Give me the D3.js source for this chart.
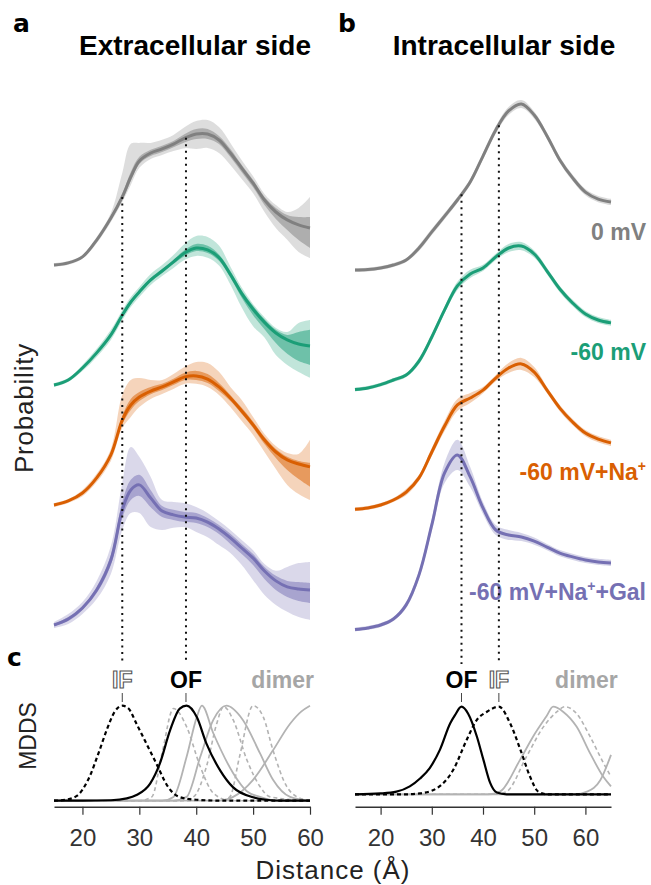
<!DOCTYPE html>
<html><head><meta charset="utf-8">
<script src="https://cdn.jsdelivr.net/npm/d3@7"></script>
<style>body{margin:0;background:#fff}svg{display:block;font-family:"Liberation Sans",Arial,sans-serif}</style>
</head><body><svg id="c" width="651" height="885"></svg>
<script>
// ---------- data ----------
const conditions = ['0 mV', '-60 mV', '-60 mV+Na+', '-60 mV+Na+ +Gal'];

// Extracellular side (panel a), distance grid in Å
const extX = [15,17.5,20,22.5,25,27,28.5,30,32,34,36,38,40,42,44,46,48,50,52,54,56,58,60];
const extGray   = [2.9,3.8,6.3,13.3,22.5,31.3,39.6,46.3,49.6,51.3,53.3,55.8,57.5,57.5,55,49.6,43.3,37,30,25,21.7,19.6,18.3];
const extGreen  = [2.9,5,10,16.3,23.8,32,37.5,41.7,46.7,50.4,54.2,58,60,59.2,56,49,41,34.5,29,24.6,21.7,20,19.2];
const extOrange = [2.9,4.6,7.9,14.2,23.8,38.3,44.6,47.9,50.4,52.1,54.2,56.3,56.7,55.4,52.1,47.5,42.1,36.3,30,25,21.7,20,18.8];
const extPurple = [2.9,5.4,10,17.5,30,50.8,59.2,61.3,55.8,50.4,48.8,47.9,47.5,45.8,42.9,39.2,35,30.8,25.4,21.3,18.8,17.9,17.5];
// uncertainty bands (outer = light, inner = darker), upper / lower extent
const extGrayOutUp = [0.8,0.8,0.8,1.3,2.1,10,13.8,7.5,4.2,3.8,3.8,4.6,5.4,5.8,5.4,4.2,3.3,2.9,2.5,2.9,3.3,7.1,12.9];
const extGrayOutDn = [0.8,0.8,0.8,1.3,1.7,2.1,3.3,2.9,2.5,2.5,2.9,4.2,6.3,5.8,5.4,5,4.6,4.2,5,6.7,8.3,11.3,12.5];
const extGrayInUp  = [0.4,0.4,0.4,0.4,0.8,1.3,2.1,1.7,1.3,1.3,1.3,1.7,2.1,2.1,1.7,1.7,1.3,1.3,1.3,1.7,2.1,3.3,4.6];
const extGrayInDn  = [0.4,0.4,0.4,0.4,0.8,1.3,1.7,1.3,1.3,1.3,1.3,1.7,2.1,2.1,1.7,1.7,1.7,1.7,2.1,2.9,4.2,6.3,8.3];
const extGreenOutUp = [0.8,0.8,1.3,1.7,2.1,2.1,2.1,2.1,2.5,2.5,2.9,3.8,5,5.4,5,3.3,2.5,2.1,2.1,2.1,3.3,8.8,10.8];
const extGreenOutDn = [0.8,0.8,1.3,1.7,2.1,2.1,2.1,2.1,2.1,2.1,2.5,2.9,3.3,3.3,3.3,4.2,5.8,7.1,6.3,9.2,10.4,11.7,13.3];
const extGreenInUp  = [0.4,0.4,0.4,0.4,0.8,0.8,0.8,0.8,0.8,0.8,0.8,1.3,1.7,1.7,1.3,1.3,1.3,1.3,1.3,1.3,2.1,5,6.7];
const extGreenInDn  = [0.4,0.4,0.4,0.4,0.8,0.8,0.8,0.8,0.8,0.8,0.8,1.3,1.3,1.3,1.3,1.3,1.7,2.5,2.9,4.2,5.8,7.1,7.9];
const extOrangeOutUp = [0.8,0.8,1.3,1.7,2.5,10.4,10.4,7.9,4.6,2.9,3.3,4.2,5.8,6.7,6.3,4.6,4.6,3.3,2.5,2.5,2.9,4.2,11.3];
const extOrangeOutDn = [0.8,0.8,1.3,1.7,2.5,3.3,5,4.2,3.3,2.9,2.9,2.9,3.3,3.3,3.3,3.8,4.2,4.2,5,7.1,10.4,12.5,13.8];
const extOrangeInUp  = [0.4,0.4,0.4,0.4,0.8,1.7,2.5,2.1,1.7,1.3,1.3,1.7,2.1,2.1,1.7,1.3,1.3,1.3,1.3,1.3,1.3,1.3,1.7];
const extOrangeInDn  = [0.4,0.4,0.4,0.4,0.8,1.7,2.1,1.7,1.3,1.3,1.3,1.3,1.7,1.7,1.7,1.3,1.3,1.3,1.7,2.5,4.2,6.3,8.3];
const extPurpleOutUp = [1.3,2.1,2.5,3.8,5.8,11.3,17.9,11.7,8.8,4.6,5.4,5.8,4.6,3.8,3.3,3.3,3.3,3.3,2.9,4.2,8.3,10.8,11.7];
const extPurpleOutDn = [1.3,2.1,2.5,3.8,5.8,8.3,9.6,11.7,12.1,7.9,5.4,4.2,5.8,6.3,6.7,6.3,7.1,9.2,10,10,10.4,11.7,12.5];
const extPurpleInUp  = [0.4,0.8,0.8,1.3,2.1,3.3,4.2,4.2,3.3,2.1,2.1,2.1,2.1,1.7,1.7,1.7,1.7,1.7,1.7,2.1,2.5,2.9,2.9];
const extPurpleInDn  = [0.4,0.8,0.8,1.3,2.1,3.3,4.2,4.6,3.8,2.5,2.1,2.1,2.1,2.1,2.1,2.5,2.5,2.9,3.3,3.8,4.2,5,5.4];

// Intracellular side (panel b)
const intX = [15,17.5,20,22.5,25,27.5,30,32.5,35,37.5,40,42.5,45,47.5,50,52.5,55,57.5,60,62.5,65];
const intGray   = [0.8,1,1.7,2.9,5,10,16.7,23.3,30,37.5,48.3,59.2,67.1,70,65.4,56.7,46.7,39.2,33.3,30.4,29.2];
const intGreen  = [1.0,1.7,3.1,5,7.1,12.9,22.9,34.2,44.2,49.2,51.7,56.3,60,60.8,57.5,50.4,42.9,37.1,32.5,30,28.8];
const intOrange = [1.1,1.7,2.9,5,8.3,14.2,25,35.8,44.6,47.5,50.8,55.8,60,61.7,58.3,50.8,43.3,37.5,32.9,30.4,28.8];
const intPurple = [1,1.7,2.9,5.4,11.3,23.8,44.6,66.3,73.8,64.6,51.7,42.5,40.4,39.6,37.9,35.4,32.9,31.3,30,29.2,28.8];
const intGraySd   = [0.8,0.8,0.8,0.8,0.8,1.3,1.3,1.3,1.3,1.3,1.3,1.5,1.7,1.7,1.5,1.3,1.3,1.3,1.3,1.3,1.3];
const intGreenSd  = [0.8,0.8,0.8,0.8,0.8,1.3,1.3,1.3,1.7,1.7,1.3,1.3,1.7,1.7,1.5,1.3,1.3,1.3,1.3,1.3,1.3];
const intOrangeSd = [0.8,0.8,0.8,0.8,1.3,1.3,1.7,2.1,2.5,2.1,1.3,1.3,2.1,2.5,2.1,1.3,1.3,1.3,1.3,1.3,1.3];
const intPurpleSd = [0.8,0.8,0.8,0.8,1.3,1.7,2.5,4.2,6.3,4.2,2.5,2.1,2.1,1.7,1.5,1.3,1.3,1.3,1.3,1.3,1.3];

// Reference markers (Å)
const extMarkerLabels = ['IF', 'OF'];
const extMarkerPos = [27, 38.2];
const intMarkerLabels = ['OF', 'IF'];
const intMarkerPos = [35.8, 43.1];
const dimerLabelPos = [55.2, 60.2];

// MDDS panel c (normalised)
const mExtIFx = [15,17,19,21,23,24.3,25.7,27,28.1,29.5,31,33,35,37,40,45,60];
const mExtIF  = [0,0.01,0.05,0.22,0.53,0.75,0.94,1.0,0.97,0.81,0.63,0.39,0.15,0.04,0.01,0,0];
const mExtOFx = [15,20,25,27.8,29.5,31.9,33.6,35.4,37.1,38.3,40.1,41.8,44.2,46.5,50,52.3,55,60];
const mExtOF  = [0,0,0.005,0.025,0.06,0.18,0.39,0.74,0.97,1.0,0.88,0.6,0.32,0.14,0.036,0.01,0,0];
const mExtD1x = [15,30,32.2,34,36,38.3,40.7,43,46,60];
const mExtD1  = [0,0,0.04,0.5,0.97,0.78,0.36,0.08,0,0];
const mExtD2x = [15,34,36,38.3,40.1,41,43,46.5,48.9,51.2,54,60];
const mExtD2  = [0,0,0.04,0.46,0.88,1.0,0.71,0.29,0.1,0.04,0,0];
const mExtD3x = [15,36,38.3,40.7,43,45.3,48.2,51.2,53.5,56.5,60];
const mExtD3  = [0,0,0.04,0.46,0.85,1.0,0.85,0.5,0.22,0.04,0];
const mExtD4x = [15,37,39.5,41.8,43.6,44.8,46.5,48.9,51.2,53,60];
const mExtD4  = [0,0,0.04,0.36,0.81,0.99,0.85,0.43,0.15,0.04,0];
const mExtD5x = [15,44,45.9,47.6,50,51.8,53.5,55.9,57.7,60];
const mExtD5  = [0,0,0.04,0.46,1.0,0.88,0.53,0.15,0.04,0];
const mExtD6x = [15,44,46.5,50,53.5,56.5,58.5,60];
const mExtD6  = [0,0,0.04,0.22,0.53,0.81,0.94,1.0];

const mIntOFx = [15,20,23.1,25.7,27.7,29.6,31.6,33.6,34.5,35.8,37.1,38.8,40.1,41.4,42.7,44.6,65];
const mIntOF  = [0,0.01,0.03,0.09,0.18,0.3,0.51,0.81,0.9,1.0,0.92,0.66,0.39,0.13,0.02,0,0];
const mIntIFx = [15,25,27.7,31,34.2,36.8,38.8,40.7,43.1,45.3,47.3,49.2,50.8,52.5,65];
const mIntIF  = [0,0,0.01,0.07,0.28,0.62,0.85,0.94,1.0,0.81,0.51,0.2,0.03,0,0];
const mIntD1x = [15,41,43.3,47.2,49.8,52.4,53.7,55.7,58.3,60.9,63.5,65];
const mIntD1  = [0,0,0.03,0.39,0.66,0.89,1.0,0.94,0.77,0.47,0.2,0.09];
const mIntD2x = [15,42.5,44.6,48.5,51.8,54.4,56,58.3,60.9,63.5,65];
const mIntD2  = [0,0,0.03,0.43,0.77,0.94,1.0,0.92,0.66,0.36,0.2];
const mIntD3x = [15,58,60.3,62.9,65];
const mIntD3  = [0,0,0.03,0.16,0.45];

const ticks = [20, 30, 40, 50, 60];

// ---------- styling ----------
const colors = ['#808080', '#1b9e77', '#d95f02', '#7570b3'];
const dimerColor = '#b3b3b3';
const FONT = '"Liberation Sans", Arial, sans-serif';

// ---------- scales ----------
const svg = d3.select('#c');
const xExt = d3.scaleLinear().domain([15, 60]).range([54, 310]);
const xInt = d3.scaleLinear().domain([15, 65]).range([355, 611]);
const yRidge = d3.scaleLinear().domain([0, 250]).range([632, 32]);
const ridgeOffsets = [150, 100, 50, 0];
const yMExt = d3.scaleLinear().domain([0, 1]).range([800.7, 705.7]);
const yMInt = d3.scaleLinear().domain([0, 1]).range([794.3, 706.7]);

// tables built from arrays
const extSeries = [
  {m: extGray, ou: extGrayOutUp, od: extGrayOutDn, iu: extGrayInUp, id: extGrayInDn},
  {m: extGreen, ou: extGreenOutUp, od: extGreenOutDn, iu: extGreenInUp, id: extGreenInDn},
  {m: extOrange, ou: extOrangeOutUp, od: extOrangeOutDn, iu: extOrangeInUp, id: extOrangeInDn},
  {m: extPurple, ou: extPurpleOutUp, od: extPurpleOutDn, iu: extPurpleInUp, id: extPurpleInDn}
];
const intSeries = [
  {m: intGray, sd: intGraySd}, {m: intGreen, sd: intGreenSd},
  {m: intOrange, sd: intOrangeSd}, {m: intPurple, sd: intPurpleSd}
];

const curve = d3.curveCatmullRom.alpha(0.5);
const mcurve = d3.curveMonotoneX;

// ---------- panel a ----------
const gA = svg.append('g');
extSeries.forEach((s, k) => {
  const off = ridgeOffsets[k];
  const pts = extX.map((x, i) => ({x, m: s.m[i], ou: s.ou[i], od: s.od[i], iu: s.iu[i], id: s.id[i]}));
  gA.append('path').datum(pts)
    .attr('d', d3.area().curve(curve).x(d => xExt(d.x)).y0(d => yRidge(off + d.m - d.od)).y1(d => yRidge(off + d.m + d.ou)))
    .attr('fill', colors[k]).attr('fill-opacity', 0.27);
  gA.append('path').datum(pts)
    .attr('d', d3.area().curve(curve).x(d => xExt(d.x)).y0(d => yRidge(off + d.m - d.id)).y1(d => yRidge(off + d.m + d.iu)))
    .attr('fill', colors[k]).attr('fill-opacity', 0.5);
  gA.append('path').datum(pts)
    .attr('d', d3.line().curve(curve).x(d => xExt(d.x)).y(d => yRidge(off + d.m)))
    .attr('fill', 'none').attr('stroke', colors[k]).attr('stroke-width', 3);
});

// ---------- panel b ----------
const gB = svg.append('g');
intSeries.forEach((s, k) => {
  const off = ridgeOffsets[k];
  const pts = intX.map((x, i) => ({x, m: s.m[i], sd: s.sd[i]}));
  gB.append('path').datum(pts)
    .attr('d', d3.area().curve(curve).x(d => xInt(d.x)).y0(d => yRidge(off + d.m - d.sd)).y1(d => yRidge(off + d.m + d.sd)))
    .attr('fill', colors[k]).attr('fill-opacity', 0.3);
  gB.append('path').datum(pts)
    .attr('d', d3.line().curve(curve).x(d => xInt(d.x)).y(d => yRidge(off + d.m)))
    .attr('fill', 'none').attr('stroke', colors[k]).attr('stroke-width', 3);
});

// condition labels
const labelG = svg.append('g').attr('font-family', FONT).attr('font-weight', 'bold').attr('font-size', 23).attr('text-anchor', 'end');
conditions.forEach((c, k) => {
  const t = labelG.append('text').attr('x', 646).attr('y', yRidge(ridgeOffsets[k]) - 32).attr('fill', colors[k]);
  const parts = c.split('Na+');
  if (parts.length === 1) { t.text(c); return; }
  t.append('tspan').text(parts[0] + 'Na');
  t.append('tspan').attr('dy', -9).attr('font-size', 14).text('+');
  t.append('tspan').attr('dy', 9).text(parts[1].trim());
});

// ---------- marker lines ----------
function interp(xs, ys, x) {
  const i = d3.bisectRight(xs, x) - 1;
  const t = (x - xs[i]) / (xs[i + 1] - xs[i]);
  return ys[i] + t * (ys[i + 1] - ys[i]);
}
const mk = svg.append('g');
function markers(labels, pos, xs, grid, grayArr) {
  labels.forEach((lab, i) => {
    const px = xs(pos[i]);
    const top = yRidge(ridgeOffsets[0] + interp(grid, grayArr, pos[i]));
    mk.append('line').attr('x1', px).attr('x2', px).attr('y1', top).attr('y2', 664)
      .attr('stroke', '#111').attr('stroke-width', 2).attr('stroke-dasharray', '2,4.5');
    mk.append('line').attr('x1', px).attr('x2', px).attr('y1', 693).attr('y2', 702)
      .attr('stroke', '#444').attr('stroke-width', 1);
    const t = mk.append('text').attr('x', px).attr('y', 688).attr('text-anchor', 'middle')
      .attr('font-family', FONT).attr('font-weight', 'bold').attr('font-size', 23).text(lab);
    if (lab === 'IF') t.attr('fill', '#fff').attr('stroke', '#555').attr('stroke-width', 1.1);
    else t.attr('fill', '#000');
  });
}
markers(extMarkerLabels, extMarkerPos, xExt, extX, extGray);
markers(intMarkerLabels, intMarkerPos, xInt, intX, intGray);

// dimer labels
[xExt(dimerLabelPos[0]), xInt(dimerLabelPos[1])].forEach(x => {
  svg.append('text').attr('x', x).attr('y', 688).attr('text-anchor', 'middle')
    .attr('font-family', FONT).attr('font-weight', 'bold').attr('font-size', 23).attr('fill', '#a6a6a6').text('dimer');
});

// ---------- panel c ----------
const gC = svg.append('g');
function mline(xs, ys, xsc, ysc, color, dashed, w) {
  const pts = xs.map((x, i) => ({x, y: ys[i]}));
  gC.append('path').datum(pts)
    .attr('d', d3.line().curve(mcurve).x(d => xsc(d.x)).y(d => ysc(d.y)))
    .attr('fill', 'none').attr('stroke', color).attr('stroke-width', w)
    .attr('stroke-dasharray', dashed ? '4,3' : null);
}
mline(mExtD1x, mExtD1, xExt, yMExt, dimerColor, true, 1.6);
mline(mExtD4x, mExtD4, xExt, yMExt, dimerColor, true, 1.6);
mline(mExtD5x, mExtD5, xExt, yMExt, dimerColor, true, 1.6);
mline(mExtD2x, mExtD2, xExt, yMExt, dimerColor, false, 1.8);
mline(mExtD3x, mExtD3, xExt, yMExt, dimerColor, false, 1.8);
mline(mExtD6x, mExtD6, xExt, yMExt, dimerColor, false, 1.8);
mline(mExtOFx, mExtOF, xExt, yMExt, '#000', false, 2.2);
mline(mExtIFx, mExtIF, xExt, yMExt, '#000', true, 2.2);

mline(mIntD2x, mIntD2, xInt, yMInt, dimerColor, true, 1.6);
mline(mIntD1x, mIntD1, xInt, yMInt, dimerColor, false, 1.8);
mline(mIntD3x, mIntD3, xInt, yMInt, dimerColor, false, 1.8);
mline(mIntOFx, mIntOF, xInt, yMInt, '#000', false, 2.2);
mline(mIntIFx, mIntIF, xInt, yMInt, '#000', true, 2.2);

// axes
function drawAxis(sc) {
  const g = svg.append('g').attr('transform', 'translate(0,806.7)')
    .call(d3.axisBottom(sc).tickValues(ticks).tickSize(8).tickSizeOuter(0).tickPadding(14).tickFormat(d3.format('d')));
  g.select('.domain').attr('stroke', '#333').attr('stroke-width', 1.5);
  g.selectAll('.tick line').attr('stroke', '#333').attr('stroke-width', 1.2);
  g.selectAll('.tick text').attr('font-family', FONT).attr('font-size', 24).attr('fill', '#333');
}
drawAxis(xExt);
drawAxis(xInt);

// ---------- titles / labels ----------
const txt = (x, y, s, size, weight, anchor, fill, fam) => svg.append('text').attr('x', x).attr('y', y)
  .attr('font-family', fam || FONT).attr('font-size', size).attr('font-weight', weight)
  .attr('text-anchor', anchor).attr('fill', fill || '#000').text(s);
txt(195, 55, 'Extracellular side', 28, 'bold', 'middle');
txt(504, 55, 'Intracellular side', 28, 'bold', 'middle');
const LETTER = '"DejaVu Sans", sans-serif';
txt(13, 32, 'a', 25, 'bold', 'start', '#000', LETTER);
txt(338, 32, 'b', 25, 'bold', 'start', '#000', LETTER);
txt(7, 666, 'c', 25, 'bold', 'start', '#000', LETTER);
txt(333, 879, 'Distance (Å)', 26, 'normal', 'middle', '#222').attr('letter-spacing', 1);
svg.append('text').attr('transform', 'translate(33,408) rotate(-90)').attr('text-anchor', 'middle')
  .attr('font-family', FONT).attr('font-size', 26).attr('letter-spacing', 0.8).attr('fill', '#222').text('Probability');
svg.append('text').attr('transform', 'translate(36,736) rotate(-90)').attr('text-anchor', 'middle')
  .attr('font-family', FONT).attr('font-size', 23).attr('fill', '#222').text('MDDS');
</script></body></html>
